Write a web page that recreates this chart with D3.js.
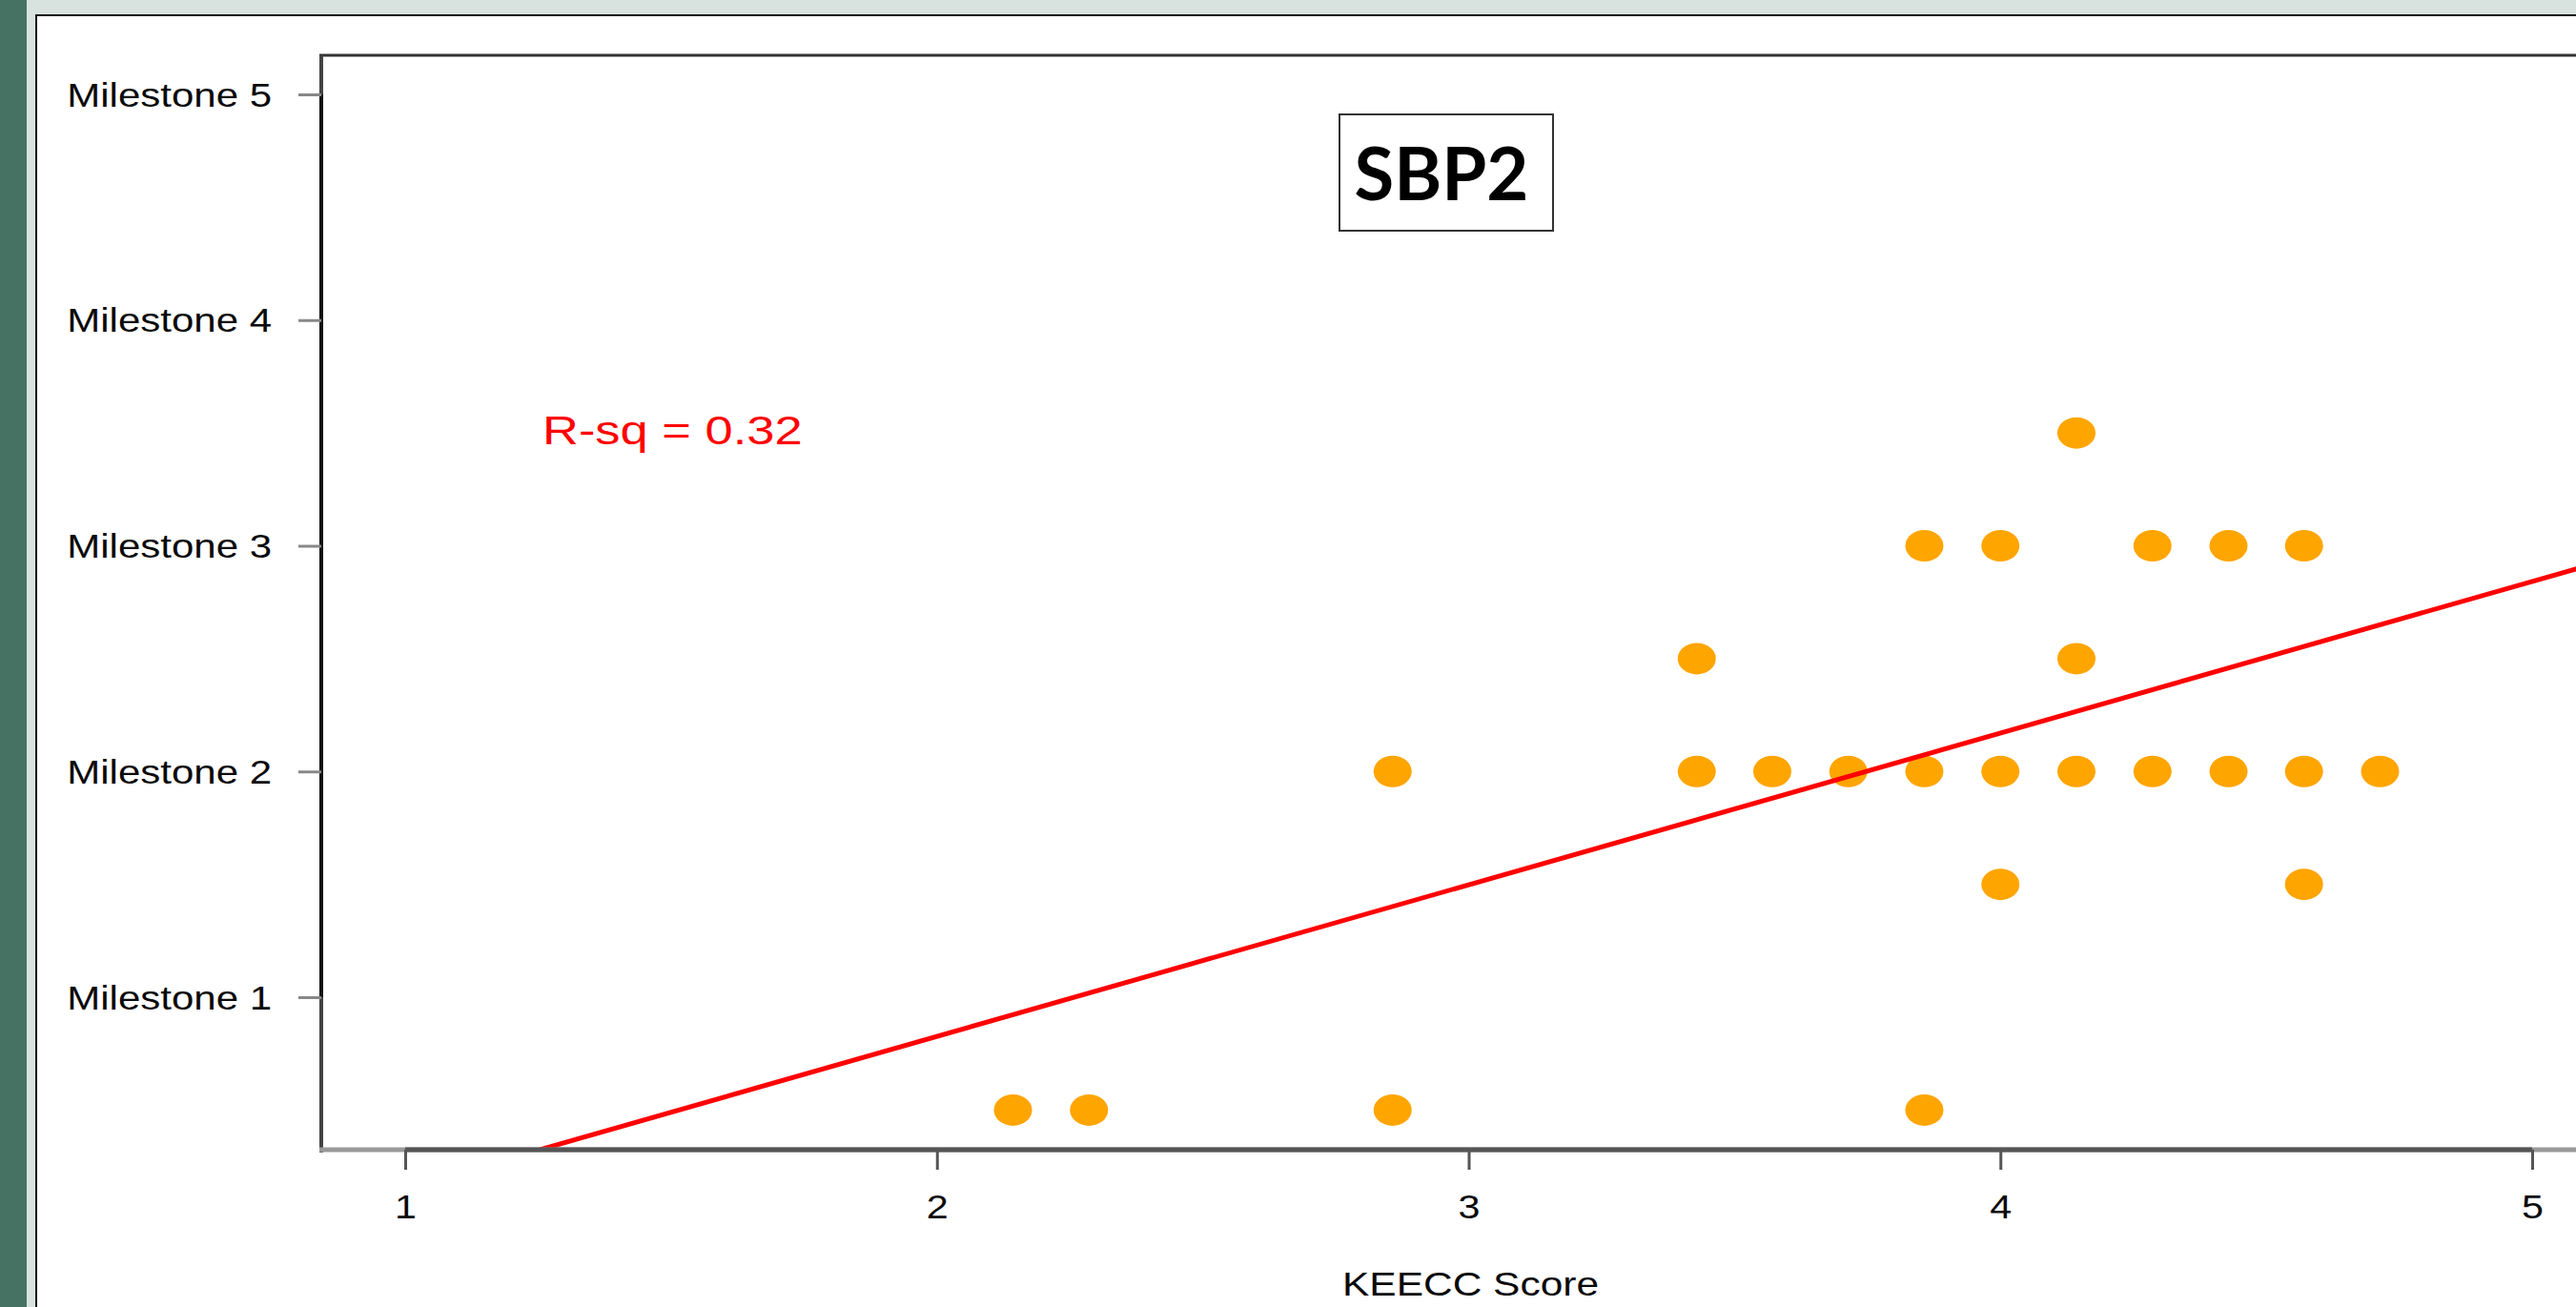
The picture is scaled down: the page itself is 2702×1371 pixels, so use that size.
<!DOCTYPE html>
<html>
<head>
<meta charset="utf-8">
<script src="https://cdn.jsdelivr.net/npm/d3@7"></script>
<style>
  html, body { margin: 0; padding: 0; background: #ffffff; overflow: hidden; }
  svg { display: block; }
</style>
</head>
<body>
<script>
// ---- data ----
const xTickValues = [1, 2, 3, 4, 5];
const xTickLabels = ["1", "2", "3", "4", "5"];
const yTickValues = [1, 2, 3, 4, 5];
const yTickLabels = ["Milestone 1", "Milestone 2", "Milestone 3", "Milestone 4", "Milestone 5"];
const keeccScore = [2.143, 2.286, 2.857, 3.857,
                    2.857, 3.429, 3.571, 3.714, 3.857, 4.0, 4.143, 4.286, 4.429, 4.571, 4.714,
                    3.429, 4.143,
                    3.857, 4.0, 4.286, 4.429, 4.571,
                    4.143,
                    4.0, 4.571];
const milestoneLevel = [0.5, 0.5, 0.5, 0.5,
                        2, 2, 2, 2, 2, 2, 2, 2, 2, 2, 2,
                        2.5, 2.5,
                        3, 3, 3, 3, 3,
                        3.5,
                        1.5, 1.5];
const fitIntercept = -0.518;
const fitSlope = 0.672;
const rsqLabel = "R-sq = 0.32";
const titleLabel = "SBP2";
const xAxisTitle = "KEECC Score";

// ---- layout ----
const W = 2702, H = 1371;
const plotLeft = 337, plotTop = 58, plotBottom = 1206, plotRight = 2702;
const SX = 1.18;   // horizontal stretch of the text in the reference
const SXY = 1.2;

const svg = d3.select("body").append("svg").attr("width", W).attr("height", H);

// window frame
svg.append("rect").attr("x", 0).attr("y", 0).attr("width", W).attr("height", H).attr("fill", "#ffffff");
svg.append("rect").attr("x", 0).attr("y", 0).attr("width", W).attr("height", 15).attr("fill", "#d8e2de");
svg.append("rect").attr("x", 28).attr("y", 0).attr("width", 9).attr("height", H).attr("fill", "#d8e2de");
svg.append("rect").attr("x", 0).attr("y", 0).attr("width", 28).attr("height", H).attr("fill", "#467264");
svg.append("rect").attr("x", 37).attr("y", 15).attr("width", W - 37).attr("height", 2).attr("fill", "#111111");
svg.append("rect").attr("x", 37).attr("y", 15).attr("width", 2).attr("height", H - 15).attr("fill", "#111111");

// scales
const x = d3.scaleLinear().domain([1, 5]).range([425, 2656]);
const y = d3.scaleLinear().domain([1, 5]).range([1046, 99]);

// clip
svg.append("clipPath").attr("id", "plotclip")
  .append("rect").attr("x", plotLeft).attr("y", plotTop)
  .attr("width", plotRight - plotLeft).attr("height", plotBottom - plotTop);

// points
const pts = keeccScore.map((v, i) => ({ x: v, y: milestoneLevel[i] }));
svg.append("g").attr("clip-path", "url(#plotclip)")
  .selectAll("ellipse").data(pts).join("ellipse")
  .attr("cx", d => x(d.x)).attr("cy", d => y(d.y))
  .attr("rx", 20).attr("ry", 16.5)
  .attr("fill", "#ffa500");

// regression line
const x0 = x.invert(plotLeft), x1 = x.invert(plotRight + 5);
svg.append("g").attr("clip-path", "url(#plotclip)")
  .append("line")
  .attr("x1", x(x0)).attr("y1", y(fitIntercept + fitSlope * x0))
  .attr("x2", x(x1)).attr("y2", y(fitIntercept + fitSlope * x1))
  .attr("stroke", "#ff0000").attr("stroke-width", 5);

// box
svg.append("line").attr("x1", plotLeft - 2).attr("x2", plotRight).attr("y1", plotTop).attr("y2", plotTop)
  .attr("stroke", "#333333").attr("stroke-width", 3);
svg.append("line").attr("x1", plotLeft).attr("x2", plotLeft).attr("y1", plotTop).attr("y2", plotBottom + 3)
  .attr("stroke", "#444444").attr("stroke-width", 4);
svg.append("line").attr("x1", plotLeft - 2).attr("x2", plotRight).attr("y1", plotBottom).attr("y2", plotBottom)
  .attr("stroke", "#999999").attr("stroke-width", 5);

// x axis
const xAxis = d3.axisBottom(x).tickValues(xTickValues)
  .tickFormat((d, i) => xTickLabels[i]).tickSizeInner(21).tickSizeOuter(0).tickPadding(28);
const gx = svg.append("g").attr("transform", `translate(0,${plotBottom})`).call(xAxis);
gx.select(".domain").attr("stroke", "#555555").attr("stroke-width", 5)
  .attr("d", `M${x(1)},0H${x(5)}`);
gx.selectAll(".tick line").attr("stroke", "#555555").attr("stroke-width", 3);
gx.selectAll(".tick text")
  .attr("font-family", "'Liberation Sans', Arial, sans-serif").attr("font-size", 35)
  .attr("fill", "#0a0a0a").attr("dy", null).attr("y", 72)
  .attr("transform", `scale(${SX},1)`);

// y axis
const yAxis = d3.axisLeft(y).tickValues(yTickValues)
  .tickFormat((d, i) => yTickLabels[i]).tickSizeInner(24).tickSizeOuter(0).tickPadding(26);
const gy = svg.append("g").attr("transform", `translate(${plotLeft},0)`).call(yAxis);
gy.select(".domain").attr("stroke", "#111111").attr("stroke-width", 4)
  .attr("d", `M0,${y(1)}V${y(5)}`);
gy.selectAll(".tick line").attr("stroke", "#888888").attr("stroke-width", 3);
gy.selectAll(".tick text")
  .attr("font-family", "'Liberation Sans', Arial, sans-serif").attr("font-size", 35)
  .attr("fill", "#0a0a0a").attr("dy", null).attr("y", 12)
  .attr("x", -52 / SXY)
  .attr("transform", `scale(${SXY},1)`);

// x axis title
svg.append("text")
  .attr("transform", `translate(${x(3) + 2},1359) scale(${SX},1)`)
  .attr("text-anchor", "middle")
  .attr("font-family", "'Liberation Sans', Arial, sans-serif").attr("font-size", 36)
  .attr("fill", "#0a0a0a").text(xAxisTitle);

// R-sq annotation
svg.append("text")
  .attr("transform", `translate(569,466) scale(1.22,1)`)
  .attr("font-family", "'Liberation Sans', Arial, sans-serif").attr("font-size", 43)
  .attr("fill", "#ff0000").text(rsqLabel);

// title box
svg.append("rect").attr("x", 1405).attr("y", 120).attr("width", 224).attr("height", 122)
  .attr("fill", "#ffffff").attr("stroke", "#333333").attr("stroke-width", 2);
svg.append("text")
  .attr("x", 1512).attr("y", 210).attr("text-anchor", "middle")
  .attr("font-family", "Lato, 'Open Sans', sans-serif").attr("font-weight", "bold").attr("font-size", 76)
  .attr("fill", "#000000").text(titleLabel);
</script>
</body>
</html>
